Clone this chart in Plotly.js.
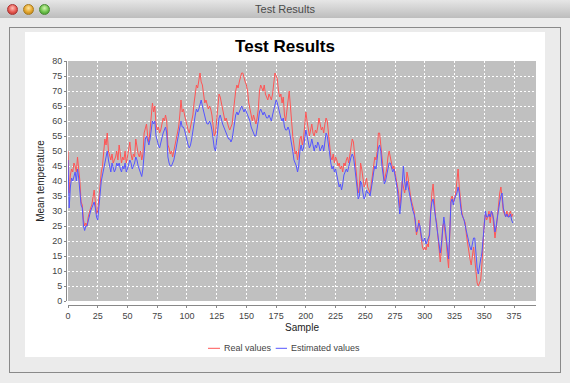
<!DOCTYPE html>
<html><head><meta charset="utf-8">
<script src="https://cdn.plot.ly/plotly-3.0.1.min.js"></script>
<style>
html,body{margin:0;padding:0;}
body{width:570px;height:383px;position:relative;overflow:hidden;background:#ececec;font-family:"Liberation Sans",Arial,sans-serif;}
#titlebar{position:absolute;left:0;top:0;width:570px;height:18px;background:linear-gradient(#e6e6e6,#bdbdbd);}
#wintitle{position:absolute;left:0;top:0;width:570px;height:18px;line-height:19px;text-align:center;font-size:11px;color:#4a4a4a;}
.tl{position:absolute;top:4px;width:11px;height:11px;border-radius:50%;box-sizing:border-box;}
#tr{left:7px;background:radial-gradient(circle at 50% 35%,#ffc0b8 0%,#e6574f 55%,#a8302a 100%);border:1px solid #a33;}
#ty{left:23px;background:radial-gradient(circle at 50% 35%,#ffe6a0 0%,#e3a42a 55%,#a8761a 100%);border:1px solid #a77a1e;}
#tg{left:39px;background:radial-gradient(circle at 50% 35%,#d4f5b0 0%,#6cc24a 55%,#3f8a2a 100%);border:1px solid #4a8a33;}
#frame{position:absolute;left:9px;top:27px;width:552px;height:346px;box-sizing:border-box;border:1px solid #8a8a8a;background:#ebebeb;}
#chart{position:absolute;left:25px;top:32px;width:520px;height:325px;background:#fff;}
</style>
</head><body>
<div id="titlebar"></div>
<div id="wintitle">Test Results</div>
<div class="tl" id="tr"></div><div class="tl" id="ty"></div><div class="tl" id="tg"></div>
<div id="frame"></div>
<div id="chart"></div>
<script>
// Mean temperature, real values (one per sample)
const realValues = [
50,36,42,44,43,46,45,43,48,44,
40,33,32,27,25,26,25,28,30,31,
32,34,37,33,29,30,35,40,43,45,
50,54,52,56,50,48,47,49,46,47,
48,50,47,52,49,46,48,47,50,46,
48,50,53,49,47,49,48,54,51,49,
48,50,47,49,56,58,59,55,53,57,
62,66,63,65,59,57,58,56,57,59,
61,60,62,60,52,51,49,50,48,50,
52,54,56,58,62,67,63,64,62,60,
58,57,56,58,60,62,66,69,72,71,
74,76,73,72,69,66,67,65,64,65,
64,62,58,55,56,60,65,69,68,66,
64,62,60,61,59,58,57,58,59,63,
68,70,72,71,73,75,76,76,74,73,
72,70,66,64,61,60,62,60,59,61,
64,70,72,71,70,72,69,68,67,69,
68,67,69,72,76,75,74,70,68,69,
66,68,62,60,63,67,70,65,58,55,
52,49,50,47,50,54,55,52,54,58,
63,60,58,55,57,59,56,55,57,56,
58,61,59,57,58,56,59,61,60,55,
50,48,47,49,46,48,47,45,46,44,
45,43,46,45,47,48,46,49,52,54,
53,48,45,40,36,38,46,44,40,38,
39,41,38,37,36,39,42,46,48,47,
50,56,56,52,47,44,40,42,44,48,
50,48,46,44,45,43,41,39,36,31,
35,40,38,36,38,43,41,37,35,33,
31,30,26,22,24,27,24,21,18,17,
18,17,19,18,24,33,36,39,32,28,
26,22,18,13,17,25,26,23,20,15,
11,22,34,35,33,34,36,40,44,38,
33,30,28,27,26,22,19,16,14,12,
15,18,14,9,6,5,6,7,12,21,
26,29,27,28,30,26,30,29,25,21,
24,29,32,36,38,34,30,29,28,30,
28,29,30,28,29
];
// Mean temperature, estimated values
const estimatedValues = [
47,31,38,41,40,42,43,40,44,41,
37,32,31,25,23.5,25,25,27,29,30,
31,32,33,31,28,27,32,38,40,42,
44,47,48,50,47,45,43,46,44,43,
44,46,45,46,44,43,45,44,46,43,
44,46,47,46,44,45,46,48,47,45,
44,43,41.5,44,51,54,55,53,52,54,
57,60,59,60,55,53,52,51,53,54,
56,57,58,56,48,46,45,45,46,47,
49,51,53,55,57,60,58,58,57,55,
53,52,51,52,54,57,60,62,64,63,
64,66,67,65,63,61,60,59,59,60,
59,57,54,51,50,54,58,61,62,60,
59,58,57,56,55,54,54,53,54,57,
60,62,63,62,63,64,65,64,63,64,
63,62,61,60,58,57,56,55,55,57,
60,63,64,63,62,63,62,61,61,62,
61,60,62,64,66,67,66,64,62,61,
60,61,58,57,57,58,57,55,52,50,
47,46,45,43,45,50,52,50,51,54,
57,55,53,51,52,54,52,50,52,51,
53,52,50,51,52,50,54,56,55,52,
48,46,44,45,43,44,42,40,38,39,
37,39,42,43,44,43,45,47,48,49,
48,45,42,38,34,35,40,39,36,34,
35,37,36,36,35,37,40,43,45,44,
47,51,52,50,45,42,39,40,42,45,
46,46,44,43,44,42,40,37,33,29,
33,38,45,40,37,40,38,35,33,31,
30,29,27,23,24,26,25,22,20,20,
21,19,20,21,22,30,33,34,31,27,
25,21,19,16,19,24,28,25,21,17,
14,23,33,34,32,34,35,36,38,36,
32,29,28,27,25,23,21,19,18,17,
19,21,21,15,11,9,12,14,16,21,
27,30,28,28,29,28,30,29,27,23,
25,28,31,33,35,36,31,29,28,29,
28,28,29,27,26
];
const seriesNames = ['Real values', 'Estimated values'];
const xTickVals = [0,25,50,75,100,125,150,175,200,225,250,275,300,325,350,375];
const yTickVals = [0,5,10,15,20,25,30,35,40,45,50,55,60,65,70,75,80];
const samples = realValues.map((v, i) => i);

const W = 520, H = 325, ML = 41, MR = 9, MT = 29, MB = 52;
const PW = W - ML - MR, PH = H - MT - MB;
const px = x => (x - ML) / PW;
const py = y => 1 - (y - MT) / PH;
const RED = '#ff5555', BLUE = '#5555ff';
const FONT = 'Liberation Sans, Arial, sans-serif';

const traces = [
  {x: samples, y: realValues, name: seriesNames[0], type: 'scatter', mode: 'lines', line: {color: RED, width: 1}},
  {x: samples, y: estimatedValues, name: seriesNames[1], type: 'scatter', mode: 'lines', line: {color: BLUE, width: 1}}
];

const axisCommon = {
  anchor: 'free', position: 0,
  ticks: 'outside', ticklen: 2, tickcolor: '#888', tickwidth: 1,
  showline: true, linecolor: '#888', linewidth: 1,
  showgrid: true, gridcolor: '#ffffff', griddash: '2px,2px', gridwidth: 1,
  zeroline: false, tickmode: 'array',
  tickfont: {family: FONT, size: 9, color: '#444'}
};

const legendY = py(316.3);
const layout = {
  width: W, height: H,
  margin: {l: ML, r: MR, t: MT, b: MB, pad: 0},
  paper_bgcolor: '#ffffff', plot_bgcolor: '#c0c0c0',
  showlegend: false,
  font: {family: FONT},
  title: {text: 'Test Results', font: {family: FONT, size: 17, color: '#000', weight: 700},
          x: 0.5, xref: 'container', xanchor: 'center', y: 1 - 14.5 / H, yref: 'container', yanchor: 'middle'},
  xaxis: Object.assign({}, axisCommon, {
    range: [0, 393.5], domain: [2 / PW, 1], tickvals: xTickVals,
    title: {text: 'Sample', font: {family: FONT, size: 10, color: '#222'}, standoff: 4}
  }),
  yaxis: Object.assign({}, axisCommon, {
    range: [0, 80], domain: [4 / PH, 1], tickvals: yTickVals,
    title: {text: 'Mean temperature', font: {family: FONT, size: 10, color: '#222'}, standoff: 4}
  }),
  shapes: [
    {type: 'line', xref: 'paper', yref: 'paper', x0: px(183), x1: px(195), y0: legendY, y1: legendY, line: {color: RED, width: 1}},
    {type: 'line', xref: 'paper', yref: 'paper', x0: px(250.7), x1: px(262), y0: legendY, y1: legendY, line: {color: BLUE, width: 1}}
  ],
  annotations: [
    {text: seriesNames[0], xref: 'paper', yref: 'paper', x: px(196.5), y: legendY, xanchor: 'left', yanchor: 'middle', showarrow: false, font: {family: FONT, size: 9, color: '#444'}},
    {text: seriesNames[1], xref: 'paper', yref: 'paper', x: px(264), y: legendY, xanchor: 'left', yanchor: 'middle', showarrow: false, font: {family: FONT, size: 9, color: '#444'}}
  ]
};

Plotly.newPlot('chart', traces, layout, {staticPlot: true, displayModeBar: false});
</script>
</body></html>
